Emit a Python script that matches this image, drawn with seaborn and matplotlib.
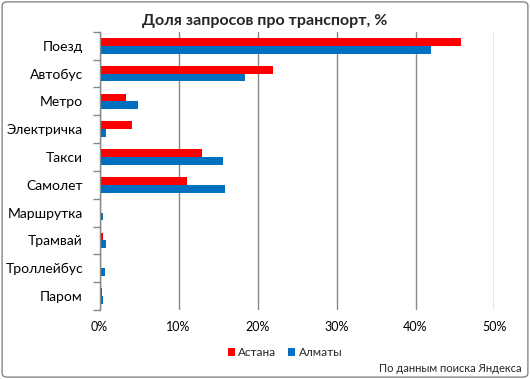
import matplotlib
matplotlib.use("Agg")
import matplotlib.pyplot as plt
from matplotlib.patches import FancyBboxPatch
from matplotlib.ticker import FuncFormatter, FixedLocator
import pandas as pd
import seaborn as sns

# values (share of transport queries, %)
categories = ['Поезд', 'Автобус', 'Метро', 'Электричка', 'Такси', 'Самолет',
              'Маршрутка', 'Трамвай', 'Троллейбус', 'Паром']
astana = [45.8, 22.0, 3.4, 4.1, 12.9, 11.0, 0.05, 0.38, 0.13, 0.25]
almaty = [41.9, 18.35, 4.9, 0.76, 15.6, 15.9, 0.38, 0.76, 0.63, 0.38]
cities = ['Астана', 'Алматы']
colors = ['#FF0000', '#0070C0']

df = pd.DataFrame({
    'category': categories * 2,
    'city': [cities[0]] * len(categories) + [cities[1]] * len(categories),
    'value': astana + almaty,
})

sns.set_style('white')
plt.rcParams['font.family'] = ['Lato', 'DejaVu Sans']

fig = plt.figure(figsize=(5.3, 3.79), dpi=100)
ax = fig.add_axes([0.188, 0.182, 0.745, 0.734])

sns.barplot(data=df, y='category', x='value', hue='city', order=categories,
            hue_order=cities, palette=colors, orient='h', width=0.56,
            saturation=1, linewidth=0, ax=ax)

ax.set_xlim(0, 50)
ax.set_ylim(len(categories) - 0.5, -0.5)
ax.xaxis.set_major_locator(FixedLocator([0, 10, 20, 30, 40, 50]))
ax.xaxis.set_major_formatter(FuncFormatter(lambda v, p: f'{v:.0f}%'))
ax.grid(axis='x', color='#878787', linewidth=1)
ax.set_axisbelow(True)
ax.set_xlabel('')
ax.set_ylabel('')

for s in ['top', 'right', 'bottom']:
    ax.spines[s].set_visible(False)
ax.spines['left'].set_color('#878787')
ax.spines['left'].set_linewidth(1)
ax.spines['left'].set_zorder(5)

ax.yaxis.set_minor_locator(FixedLocator([i - 0.5 for i in range(len(categories) + 1)]))
ax.tick_params(axis='y', which='major', length=0, pad=12, labelsize=10, labelcolor='black')
ax.tick_params(axis='y', which='minor', length=5, width=1, color='#878787', left=True)
ax.tick_params(axis='x', length=0, pad=8, labelsize=9, labelcolor='black')

ax.legend(loc='upper center', bbox_to_anchor=(0.47, -0.095), ncol=2, frameon=False,
          fontsize=8.5, handlelength=0.6, handleheight=0.6, handletextpad=0.3,
          columnspacing=1.0)

fig.text(0.5, 0.945, 'Доля запросов про транспорт, %', ha='center', va='center',
         fontsize=11.5, fontweight='bold')
fig.text(0.985, 0.012, 'По данным поиска Яндекса', ha='right', va='bottom', fontsize=8)

fig.patches.append(FancyBboxPatch((0.004, 0.005), 0.992, 0.99,
                                  boxstyle='round,pad=0,rounding_size=0.01',
                                  transform=fig.transFigure, fill=False,
                                  edgecolor='#878787', linewidth=1))

fig.savefig('out.png', dpi=100)
